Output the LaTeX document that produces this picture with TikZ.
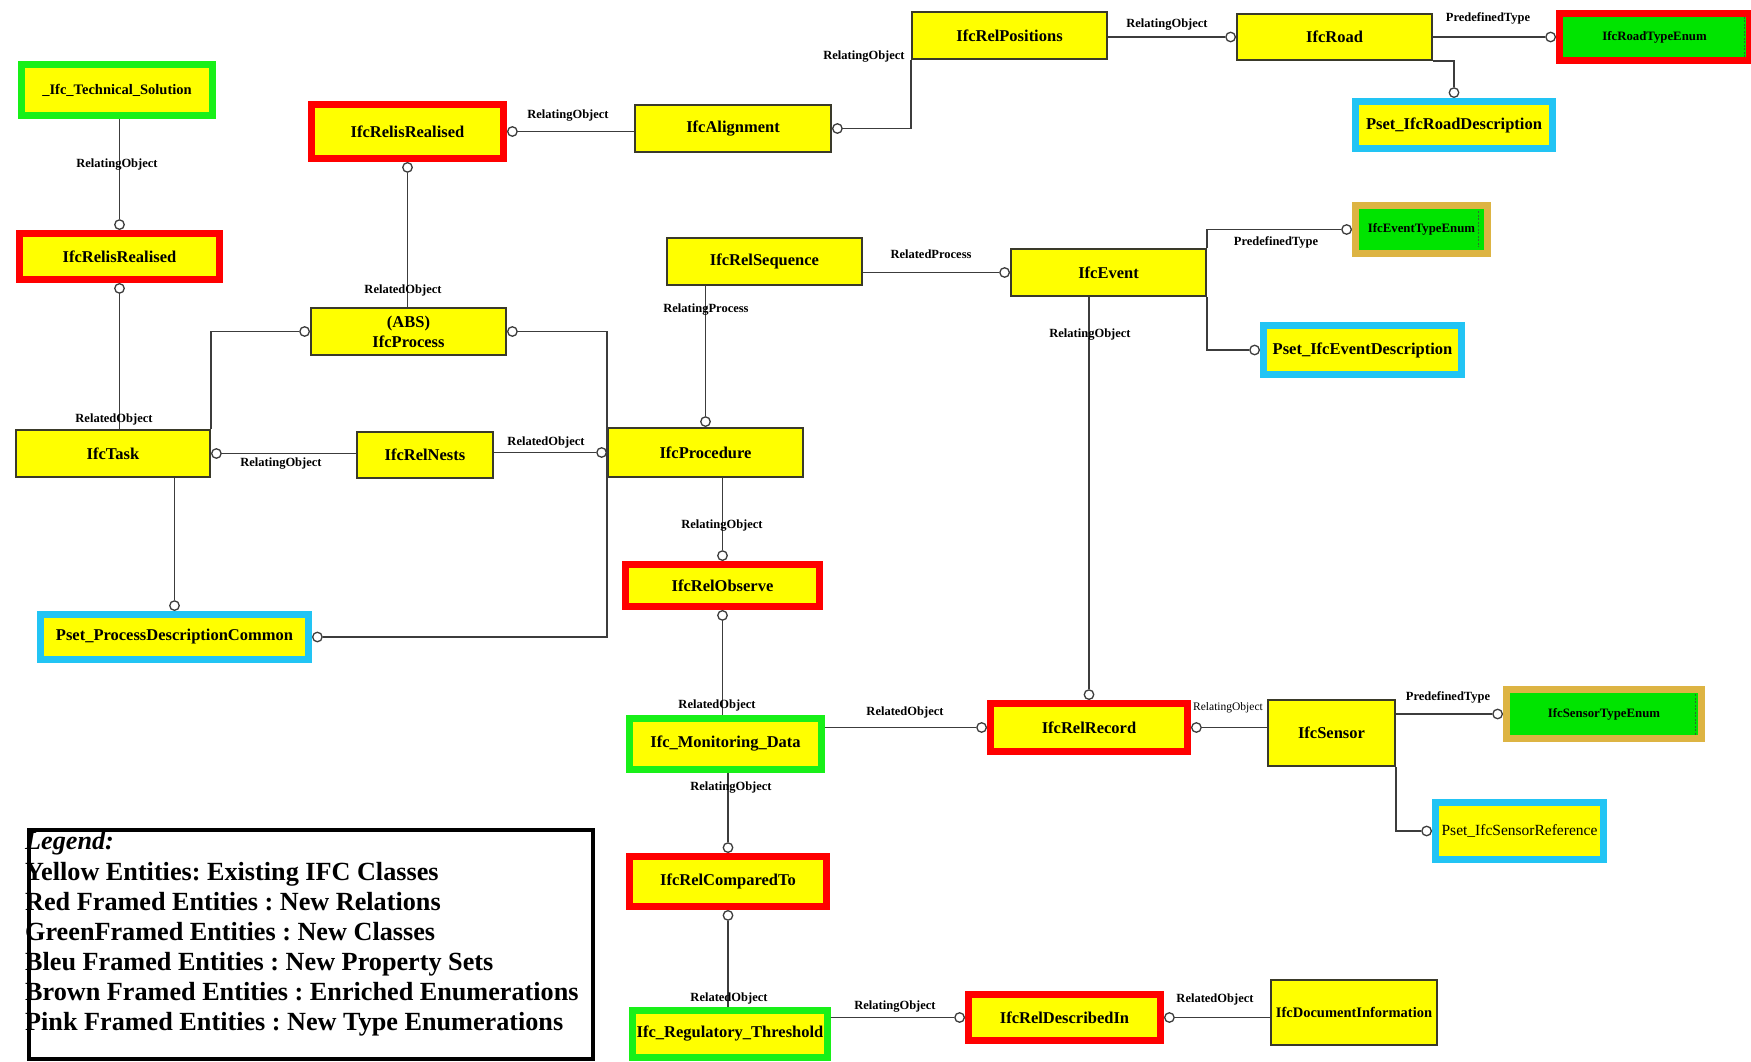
\documentclass[tikz,border=0pt]{standalone}
\usepackage{fontspec}
\setmainfont{Liberation Serif}
\usetikzlibrary{calc}
\frenchspacing

\definecolor{ifcyellow}{HTML}{FFFF00}
\definecolor{relred}{HTML}{FF0000}
\definecolor{classgreen}{HTML}{18F018}
\definecolor{enumgreen}{HTML}{00E400}
\definecolor{psetblue}{HTML}{22C4F4}
\definecolor{enumgold}{HTML}{DDB443}
\definecolor{wiregray}{HTML}{3C3C3C}
\definecolor{boxedge}{HTML}{3A3A2A}
\definecolor{dashgreen}{HTML}{2E6B2E}

\tikzset{
  ent/.style={rectangle, fill=ifcyellow, inner sep=0pt, align=center, text=black,
    font=\bfseries\fontsize{16.5}{20}\selectfont},
  plainent/.style={ent, draw=boxedge, line width=1.6pt},
  framed/.style={ent, draw=#1, line width=7pt},
  enument/.style={framed=#1, fill=enumgreen, font=\bfseries\fontsize{12.8}{15}\selectfont},
  ring/.style={circle, draw=wiregray, fill=white, line width=1.3pt, minimum size=9.5pt, inner sep=0pt},
  link/.style={draw=wiregray, line width=1.5pt},
  role/.style={font=\bfseries\fontsize{12.5}{14}\selectfont, inner sep=0pt},
  smallrole/.style={font=\fontsize{11.5}{13}\selectfont, inner sep=0pt},
  enumdash/.style={draw=dashgreen, line width=1pt, dash pattern=on 2pt off 1.5pt},
  legendline/.style={anchor=base west, inner sep=0pt, font=\bfseries\fontsize{26.2}{30}\selectfont},
}

\begin{document}
\begin{tikzpicture}[x=1pt, y=-1pt]
\useasboundingbox (0,0) rectangle (1751,1062);

% ---------- entities ----------
\node[framed=classgreen, minimum width=191pt, minimum height=51pt,
      font=\bfseries\fontsize{14.5}{17}\selectfont] (tech) at (117,90) {\_Ifc\_Technical\_Solution};
\node[framed=relred, minimum width=200pt, minimum height=46pt] (realisedL) at (119.5,256.5) {IfcRelisRealised};
\node[framed=relred, minimum width=192pt, minimum height=54pt] (realisedM) at (407.5,131.5) {IfcRelisRealised};
\node[plainent, minimum width=196.4pt, minimum height=47.4pt] (align) at (733,128.5) {IfcAlignment};
\node[plainent, minimum width=195.4pt, minimum height=47.4pt] (relpos) at (1009.5,35.5) {IfcRelPositions};
\node[plainent, minimum width=195.4pt, minimum height=46.4pt] (road) at (1334.5,37) {IfcRoad};
\node[enument=relred, minimum width=190pt, minimum height=47pt] (roadenum) at (1654.5,37) {IfcRoadTypeEnum};
\node[framed=psetblue, minimum width=197pt, minimum height=47pt] (psetroad) at (1454,125) {Pset\_IfcRoadDescription};

\node[plainent, minimum width=195.4pt, minimum height=47.4pt] (proc) at (408.5,331.5) {(ABS)\\IfcProcess};
\node[plainent, minimum width=195.4pt, minimum height=47.4pt] (relseq) at (764.5,261.5) {IfcRelSequence};
\node[plainent, minimum width=195.4pt, minimum height=47.4pt] (event) at (1108.5,272.5) {IfcEvent};
\node[enument=enumgold, minimum width=132pt, minimum height=48pt] (eventenum) at (1421.5,229.5) {IfcEventTypeEnum};
\node[framed=psetblue, minimum width=198pt, minimum height=49pt] (psetevent) at (1362.5,350) {Pset\_IfcEventDescription};

\node[plainent, minimum width=194.4pt, minimum height=47.4pt] (task) at (113,453.5) {IfcTask};
\node[plainent, minimum width=136.4pt, minimum height=46.4pt] (nests) at (425,455) {IfcRelNests};
\node[plainent, minimum width=195.4pt, minimum height=49.4pt] (procedure) at (705.5,452.5) {IfcProcedure};
\node[framed=psetblue, minimum width=268pt, minimum height=45pt] (psetpdc) at (174.5,637) {Pset\_ProcessDescriptionCommon};

\node[framed=relred, minimum width=194pt, minimum height=42pt] (observe) at (722.5,585.5) {IfcRelObserve};
\node[framed=classgreen, minimum width=192pt, minimum height=51pt] (monitor) at (725.5,744) {Ifc\_Monitoring\_Data};
\node[framed=relred, minimum width=197pt, minimum height=48pt] (record) at (1089,727.5) {IfcRelRecord};
\node[plainent, minimum width=127.4pt, minimum height=66.4pt] (sensor) at (1331.5,733) {IfcSensor};
\node[enument=enumgold, minimum width=195pt, minimum height=49pt] (sensorenum) at (1604,714) {IfcSensorTypeEnum};
\node[framed=psetblue, minimum width=168pt, minimum height=57pt,
      font=\fontsize{15.5}{18}\selectfont] (psetsensor) at (1519.5,831) {Pset\_IfcSensorReference};

\node[framed=relred, minimum width=197pt, minimum height=50pt] (compared) at (728,881.5) {IfcRelComparedTo};
\node[framed=classgreen, minimum width=195pt, minimum height=47pt] (regul) at (730,1034) {Ifc\_Regulatory\_Threshold};
\node[framed=relred, minimum width=192pt, minimum height=46pt] (described) at (1064.5,1017.5) {IfcRelDescribedIn};
\node[plainent, minimum width=166.4pt, minimum height=65.4pt,
      font=\bfseries\fontsize{14.5}{17}\selectfont] (docinfo) at (1354,1012.5) {IfcDocumentInformation};

% dashed marks inside the enumeration boxes
\draw[enumdash] ($(roadenum.north east)+(-9,7)$) -- ($(roadenum.south east)+(-9,-7)$);
\draw[enumdash] ($(eventenum.north east)+(-13,9)$) -- ($(eventenum.south east)+(-13,-10)$);
\draw[enumdash] ($(sensorenum.north east)+(-10,8)$) -- ($(sensorenum.south east)+(-10,-7)$);

% ---------- connector end rings ----------
\node[ring, anchor=south] (r1) at (realisedL.north) {};
\node[ring, anchor=north] (r2) at (realisedL.south) {};
\node[ring, anchor=west]  (r3) at (realisedM.east) {};
\node[ring, anchor=north] (r4) at (realisedM.south) {};
\node[ring, anchor=west]  (r5) at (align.east) {};
\node[ring, anchor=east]  (r6) at (road.west) {};
\node[ring, anchor=east]  (r7) at (roadenum.west) {};
\node[ring, anchor=south] (r8) at (psetroad.north) {};
\node[ring, anchor=east]  (r9) at (event.west) {};
\node[ring, anchor=south] (r10) at (procedure.north) {};
\node[ring, anchor=east]  (r11) at (eventenum.west) {};
\node[ring, anchor=east]  (r12) at (psetevent.west) {};
\node[ring, anchor=south] (r13) at (record.north) {};
\node[ring, anchor=east]  (r14) at (proc.west) {};
\node[ring, anchor=west]  (r15a) at (proc.east) {};
\node[ring, anchor=west]  (r15b) at (psetpdc.east) {};
\node[ring, anchor=west]  (r16) at (task.east) {};
\node[ring, anchor=east]  (r17) at (procedure.west) {};
\node[ring, anchor=south] (r18) at (psetpdc.north) {};
\node[ring, anchor=south] (r19) at (observe.north) {};
\node[ring, anchor=north] (r20) at (observe.south) {};
\node[ring, anchor=east]  (r21) at (record.west) {};
\node[ring, anchor=west]  (r22) at (record.east) {};
\node[ring, anchor=east]  (r23) at (sensorenum.west) {};
\node[ring, anchor=east]  (r24) at (psetsensor.west) {};
\node[ring, anchor=south] (r25) at (compared.north) {};
\node[ring, anchor=north] (r26) at (compared.south) {};
\node[ring, anchor=east]  (r27) at (described.west) {};
\node[ring, anchor=west]  (r28) at (described.east) {};

% ---------- connectors ----------
\draw[link] (r1.north) -- (r1.north |- tech.south);
\draw[link] (r2.south) -- (r2.south |- task.north);
\draw[link] (r3.east) -- (r3.east -| align.west);
\draw[link] (r4.south) -- (r4.south |- proc.north);
\draw[link] (r5.east) -| (relpos.south west);
\draw[link] (r6.west) -- (r6.west -| relpos.east);
\draw[link] (r7.west) -- (r7.west -| road.east);
\draw[link] (road.south east) -| (r8.north);
\draw[link] (r9.west) -- (r9.west -| relseq.east);
\draw[link] (r10.north) -- (r10.north |- relseq.south);
\draw[link] (event.north east) |- (r11.west);
\draw[link] (event.south east) |- (r12.west);
\draw[link] (r13.north) -- (r13.north |- event.south);
\draw[link] (r14.west) -| (task.north east);
\draw[link] (r15a.east) -- (r15a.east -| procedure.west) |- (r15b.east);
\draw[link] (r16.east) -- (r16.east -| nests.west);
\draw[link] (r17.west) -- (r17.west -| nests.east);
\draw[link] (r18.north) -- (r18.north |- task.south);
\draw[link] (r19.north) -- (r19.north |- procedure.south);
\draw[link] (r20.south) -- (r20.south |- monitor.north);
\draw[link] (r21.west) -- (r21.west -| monitor.east);
\draw[link] (r22.east) -- (r22.east -| sensor.west);
\draw[link] (r23.west) -- (r23.west -| sensor.east);
\draw[link] (sensor.south east) |- (r24.west);
\draw[link] (r25.north) -- (r25.north |- monitor.south);
\draw[link] (r26.south) -- (r26.south |- regul.north);
\draw[link] (r27.west) -- (r27.west -| regul.east);
\draw[link] (r28.east) -- (r28.east -| docinfo.west);

% ---------- role labels ----------
\node[role] (l1) at (117,165) {RelatingObject};
\node[role] (l2) at (114,419) {RelatedObject};
\node[role] (l3) at (568,116) {RelatingObject};
\node[role] (l4) at (403,290) {RelatedObject};
\node[role] (l5) at (864,57) {RelatingObject};
\node[role] (l6) at (1167,25) {RelatingObject};
\node[role] (l7) at (1488,18) {PredefinedType};
\node[role] (l9) at (931,254) {RelatedProcess};
\node[role] (l10) at (706,310) {RelatingProcess};
\node[role] (l11) at (1276,242) {PredefinedType};
\node[role] (l13) at (1090,335) {RelatingObject};
\node[role] (l16) at (281,464) {RelatingObject};
\node[role] (l17) at (546,442) {RelatedObject};
\node[role] (l19) at (722,526) {RelatingObject};
\node[role] (l20) at (717,705) {RelatedObject};
\node[role] (l21) at (905,712) {RelatedObject};
\node[smallrole] (l22) at (1228,708) {RelatingObject};
\node[role] (l23) at (1448,697) {PredefinedType};
\node[role] (l25) at (731,788) {RelatingObject};
\node[role] (l26) at (729,998) {RelatedObject};
\node[role] (l27) at (895,1007) {RelatingObject};
\node[role] (l28) at (1215,999) {RelatedObject};

% ---------- legend ----------
\node[legendline, font=\bfseries\itshape\fontsize{26.2}{30}\selectfont] (lg0) at (25,849) {Legend:};
\node[legendline] (lg1) at (25,880) {Yellow Entities: Existing IFC Classes};
\node[legendline] (lg2) at (25,910) {Red Framed Entities : New Relations};
\node[legendline] (lg3) at (25,940) {GreenFramed Entities : New Classes};
\node[legendline] (lg4) at (25,970) {Bleu Framed Entities : New Property Sets};
\node[legendline] (lg5) at (25,1000) {Brown Framed Entities : Enriched Enumerations};
\node[legendline] (lg6) at (25,1030) {Pink Framed Entities : New Type Enumerations};
\node[draw=black, line width=4pt, minimum width=564.5pt, minimum height=229pt, inner sep=0pt]
  (legend) at (310.75,944.5) {};
\end{tikzpicture}
\end{document}
